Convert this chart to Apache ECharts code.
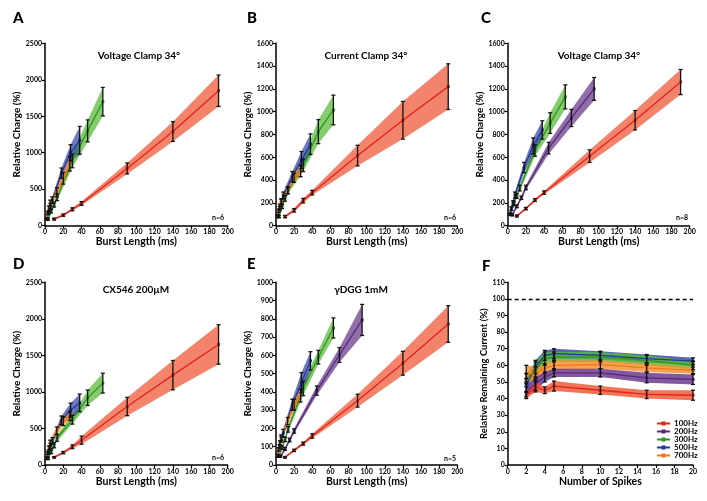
<!DOCTYPE html>
<html><head><meta charset="utf-8">
<script src="https://cdn.jsdelivr.net/npm/echarts@6/dist/echarts.min.js"></script>
<style>html,body{margin:0;padding:0;background:#fff}#c{width:707px;height:501px}</style>
</head><body><div id="c"></div>
<script>
// ---------- x values (burst lengths, ms) ----------
const burst100 = [10, 20, 30, 40, 90, 140, 190];
const burst200 = [5, 10, 15, 20, 45, 70, 95];
const burst300 = [3.3, 6.7, 10, 13.3, 30, 46.7, 63.3];
const burst500 = [2, 4, 6, 8, 18, 28, 38];
const burst700 = [1.43, 2.86, 4.29, 5.71, 12.86, 20, 27.14];
const spikeCounts = [2, 3, 4, 5, 10, 15, 20];

// ---------- Panel A: Voltage Clamp 34° ----------
const A_100 = [90, 145, 225, 305, 785, 1290, 1850];
const A_100_se = [12, 15, 20, 25, 75, 135, 215];
const A_300 = [90, 200, 290, 390, 890, 1300, 1700];
const A_300_se = [15, 25, 35, 45, 95, 150, 195];
const A_500 = [95, 180, 270, 350, 720, 1000, 1170];
const A_500_se = [15, 25, 35, 45, 70, 110, 190];
const A_700 = [90, 170, 240, 310, 460, 650, 850];
const A_700_se = [12, 20, 30, 40, 60, 80, 100];

// ---------- Panel B: Current Clamp 34° ----------
const B_100 = [80, 135, 220, 290, 615, 925, 1220];
const B_100_se = [10, 15, 20, 20, 90, 165, 200];
const B_300 = [80, 170, 240, 310, 530, 825, 1015];
const B_300_se = [10, 20, 25, 30, 55, 105, 130];
const B_500 = [85, 150, 210, 265, 430, 575, 715];
const B_500_se = [10, 20, 25, 30, 45, 75, 90];
const B_700 = [80, 130, 170, 210, 310, 420, 480];
const B_700_se = [10, 15, 20, 25, 30, 40, 50];

// ---------- Panel C: Voltage Clamp 34° ----------
const C_100 = [85, 150, 225, 290, 610, 925, 1260];
const C_100_se = [8, 10, 12, 15, 55, 85, 110];
const C_200 = [95, 170, 245, 335, 680, 945, 1200];
const C_200_se = [8, 12, 15, 20, 50, 75, 100];
const C_300 = [100, 190, 260, 330, 660, 900, 1130];
const C_300_se = [10, 15, 20, 25, 50, 90, 105];
const C_500 = [100, 150, 200, 270, 510, 700, 840];
const C_500_se = [10, 15, 20, 25, 45, 70, 80];

// ---------- Panel D: CX546 200µM ----------
const D_100 = [105, 170, 250, 340, 800, 1230, 1650];
const D_100_se = [10, 15, 25, 55, 125, 200, 270];
const D_300 = [90, 180, 270, 370, 620, 920, 1120];
const D_300_se = [15, 25, 35, 45, 60, 105, 135];
const D_500 = [95, 180, 260, 330, 610, 750, 850];
const D_500_se = [15, 25, 35, 45, 60, 95, 120];
const D_700 = [90, 160, 230, 300, 470, 600, 670];
const D_700_se = [15, 20, 30, 40, 50, 60, 60];

// ---------- Panel E: γDGG 1mM ----------
const E_100 = [42, 80, 117, 159, 352, 557, 772];
const E_100_se = [4, 6, 8, 12, 35, 65, 100];
const E_200 = [48, 88, 137, 186, 407, 602, 794];
const E_200_se = [5, 8, 10, 12, 25, 40, 85];
const E_300 = [48, 95, 140, 195, 420, 590, 750];
const E_300_se = [6, 10, 12, 15, 40, 37, 55];
const E_500 = [50, 100, 140, 175, 330, 450, 570];
const E_500_se = [8, 12, 15, 20, 30, 55, 50];
const E_700 = [50, 85, 120, 150, 240, 330, 380];
const E_700_se = [6, 10, 12, 15, 20, 30, 35];

// ---------- Panel F: Relative remaining current ----------
const F_100 = [42, 47, 45, 47.5, 45, 42.5, 42];
const F_100_se = [2, 3, 2, 3, 2.5, 2.5, 3];
const F_200 = [44, 49, 53, 55.5, 55.5, 52.5, 51.5];
const F_200_se = [3, 4, 3, 2.5, 2.5, 3, 3];
const F_300 = [52, 57, 64, 65, 65, 63, 60];
const F_300_se = [3, 5, 4, 3, 3, 3, 2.5];
const F_500 = [48, 59, 66, 67, 66, 64, 62.5];
const F_500_se = [4, 4, 3, 3, 2.5, 2.5, 2];
const F_700 = [55, 55, 58, 60, 60.5, 58.5, 57];
const F_700_se = [5, 4, 3, 3, 2.5, 2.5, 2];
const F_reference = 100;

const legendNames = ['100Hz', '200Hz', '300Hz', '500Hz', '700Hz'];

// ---------- styling ----------
const COL = {
  '100Hz': { line: '#e3221b', band: '#ef5532' },
  '200Hz': { line: '#58287a', band: '#663489' },
  '300Hz': { line: '#2f9426', band: '#56b834' },
  '500Hz': { line: '#26369a', band: '#3444a6' },
  '700Hz': { line: '#f07a18', band: '#f39030' }
};
const FONT = 'Lato, "Open Sans", sans-serif';

const panels = [
  { grid: { left: 45, top: 43.3, width: 182.7, height: 182.4 }, x: [0, 200, 20], y: [0, 2500, 500],
    xName: 'Burst Length (ms)', yName: 'Relative Charge (%)',
    sets: [['100Hz', burst100, A_100, A_100_se], ['300Hz', burst300, A_300, A_300_se], ['500Hz', burst500, A_500, A_500_se], ['700Hz', burst700, A_700, A_700_se]] },
  { grid: { left: 276, top: 43.3, width: 181.3, height: 182.4 }, x: [0, 200, 20], y: [0, 1600, 200],
    xName: 'Burst Length (ms)', yName: 'Relative Charge (%)',
    sets: [['100Hz', burst100, B_100, B_100_se], ['300Hz', burst300, B_300, B_300_se], ['500Hz', burst500, B_500, B_500_se], ['700Hz', burst700, B_700, B_700_se]] },
  { grid: { left: 507.7, top: 43.3, width: 182, height: 182.4 }, x: [0, 200, 20], y: [0, 1600, 200],
    xName: 'Burst Length (ms)', yName: 'Relative Charge (%)',
    sets: [['100Hz', burst100, C_100, C_100_se], ['200Hz', burst200, C_200, C_200_se], ['300Hz', burst300, C_300, C_300_se], ['500Hz', burst500, C_500, C_500_se]] },
  { grid: { left: 45, top: 282.3, width: 182.7, height: 182.7 }, x: [0, 200, 20], y: [0, 2500, 500],
    xName: 'Burst Length (ms)', yName: 'Relative Charge (%)',
    sets: [['100Hz', burst100, D_100, D_100_se], ['300Hz', burst300, D_300, D_300_se], ['500Hz', burst500, D_500, D_500_se], ['700Hz', burst700, D_700, D_700_se]] },
  { grid: { left: 276, top: 282.3, width: 181.3, height: 182.7 }, x: [0, 200, 20], y: [0, 1000, 100],
    xName: 'Burst Length (ms)', yName: 'Relative Charge (%)',
    sets: [['100Hz', burst100, E_100, E_100_se], ['200Hz', burst200, E_200, E_200_se], ['300Hz', burst300, E_300, E_300_se], ['500Hz', burst500, E_500, E_500_se], ['700Hz', burst700, E_700, E_700_se]] },
  { grid: { left: 507.7, top: 282.3, width: 185.3, height: 182.7 }, x: [0, 20, 2], y: [0, 110, 10],
    xName: 'Number of Spikes', yName: 'Relative Remaining Current (%)', yNameSize: 9.5, yNameGap: 18, isF: true,
    sets: [['500Hz', spikeCounts, F_500, F_500_se], ['300Hz', spikeCounts, F_300, F_300_se], ['700Hz', spikeCounts, F_700, F_700_se], ['200Hz', spikeCounts, F_200, F_200_se], ['100Hz', spikeCounts, F_100, F_100_se]] }
];

const grids = [], xAxes = [], yAxes = [], series = [];
const axisCommon = {
  axisLine: { show: true, onZero: false, lineStyle: { color: '#000', width: 1.5 } },
  axisTick: { show: true, length: 3, lineStyle: { color: '#000', width: 1.2 } },
  axisLabel: { fontSize: 7, fontWeight: 'bold', color: '#000', fontFamily: FONT, margin: 3,
    formatter: v => String(v) },
  splitLine: { show: false },
  nameLocation: 'middle'
};

panels.forEach((p, gi) => {
  grids.push(Object.assign({ containLabel: false }, p.grid));
  xAxes.push(Object.assign({}, axisCommon, {
    gridIndex: gi, type: 'value', min: p.x[0], max: p.x[1], interval: p.x[2],
    name: p.xName, nameGap: 8,
    nameTextStyle: { fontSize: 10.5, fontWeight: 'bold', color: '#000', fontFamily: FONT, verticalAlign: 'top' }
  }));
  yAxes.push(Object.assign({}, axisCommon, {
    gridIndex: gi, type: 'value', min: p.y[0], max: p.y[1], interval: p.y[2],
    name: p.yName, nameGap: p.yNameGap || 21,
    nameTextStyle: { fontSize: p.yNameSize || 10, fontWeight: 'bold', color: '#000', fontFamily: FONT }
  }));
  const alpha = p.isF ? 0.82 : 0.72;
  // bands
  p.sets.forEach(([nm, xs, m, e]) => {
    const data = xs.map((x, k) => [x, m[k] - e[k], m[k] + e[k]]);
    series.push({
      type: 'custom', name: 'band' + gi + nm, xAxisIndex: gi, yAxisIndex: gi, z: 2, silent: true,
      data, encode: { x: 0, y: [1, 2] },
      renderItem: (params, api) => {
        if (params.dataIndex !== 0) return null;
        const up = [], lo = [];
        for (let k = 0; k < data.length; k++) {
          up.push(api.coord([data[k][0], data[k][2]]));
          lo.push(api.coord([data[k][0], data[k][1]]));
        }
        return { type: 'polygon', shape: { points: up.concat(lo.reverse()) },
          style: { fill: COL[nm].band, opacity: alpha } };
      }
    });
  });
  // mean lines
  p.sets.forEach(([nm, xs, m]) => {
    series.push({
      type: 'line', name: p.isF ? nm : ('line' + gi + nm), xAxisIndex: gi, yAxisIndex: gi, z: 3,
      data: xs.map((x, k) => [x, m[k]]),
      symbol: 'rect', symbolSize: 3, showSymbol: true,
      lineStyle: { color: COL[nm].line, width: 1.3 }, itemStyle: { color: COL[nm].line },
      silent: true
    });
  });
  // error bars
  p.sets.forEach(([nm, xs, m, e]) => {
    series.push({
      type: 'custom', name: 'err' + gi + nm, xAxisIndex: gi, yAxisIndex: gi, z: 4, silent: true,
      data: xs.map((x, k) => [x, m[k] - e[k], m[k] + e[k]]), encode: { x: 0, y: [1, 2] },
      renderItem: (params, api) => {
        const x = api.value(0);
        const lo = api.coord([x, api.value(1)]);
        const hi = api.coord([x, api.value(2)]);
        const w = 2, st = { stroke: '#111', lineWidth: 1.3 };
        return { type: 'group', children: [
          { type: 'line', shape: { x1: lo[0], y1: lo[1], x2: hi[0], y2: hi[1] }, style: st },
          { type: 'line', shape: { x1: lo[0] - w, y1: lo[1], x2: lo[0] + w, y2: lo[1] }, style: st },
          { type: 'line', shape: { x1: hi[0] - w, y1: hi[1], x2: hi[0] + w, y2: hi[1] }, style: st }
        ] };
      }
    });
  });
  if (p.isF) {
    series.push({
      type: 'line', name: 'ref', xAxisIndex: gi, yAxisIndex: gi, data: [], silent: true,
      markLine: { silent: true, symbol: 'none', label: { show: false },
        lineStyle: { type: [4, 3], color: '#000', width: 1.3 }, data: [{ yAxis: F_reference }] }
    });
  }
});

const txt = (x, y, text, size, weight, align) => ({
  type: 'text', x, y, silent: true,
  style: { text, fontSize: size, fontWeight: weight, fontFamily: FONT, fill: '#000',
    textAlign: align || 'center', textVerticalAlign: 'middle' }
});

const graphics = [
  txt(13, 18, 'A', 15, '900', 'left'), txt(247, 18, 'B', 15, '900', 'left'), txt(481, 18, 'C', 15, '900', 'left'),
  txt(13, 264, 'D', 15, '900', 'left'), txt(247, 264, 'E', 15, '900', 'left'), txt(482, 266, 'F', 15, '900', 'left'),
  txt(139, 56, 'Voltage Clamp 34°', 10, 'bold'), txt(366, 56, 'Current Clamp 34°', 10, 'bold'),
  txt(599, 56, 'Voltage Clamp 34°', 10, 'bold'), txt(136, 289.5, 'CX546 200µM', 10, 'bold'),
  txt(361, 290, 'γDGG 1mM', 10, 'bold'),
  txt(224, 218, 'n=6', 7, 'bold', 'right'), txt(456, 218, 'n=6', 7, 'bold', 'right'),
  txt(688, 218, 'n=8', 7, 'bold', 'right'), txt(224, 458, 'n=6', 7, 'bold', 'right'),
  txt(456, 459, 'n=5', 7, 'bold', 'right')
];

const chart = echarts.init(document.getElementById('c'), null, { renderer: 'canvas' });
chart.setOption({
  animation: false,
  backgroundColor: '#fff',
  grid: grids, xAxis: xAxes, yAxis: yAxes, series,
  legend: {
    data: legendNames, orient: 'vertical', left: 656, top: 419.5, padding: 0,
    itemWidth: 13, itemHeight: 5, itemGap: 0, selectedMode: false,
    textStyle: { fontSize: 8, fontWeight: 'bold', fontFamily: FONT, color: '#000', padding: [0, 0, 0, -1] }
  },
  graphic: graphics
});
</script></body></html>
